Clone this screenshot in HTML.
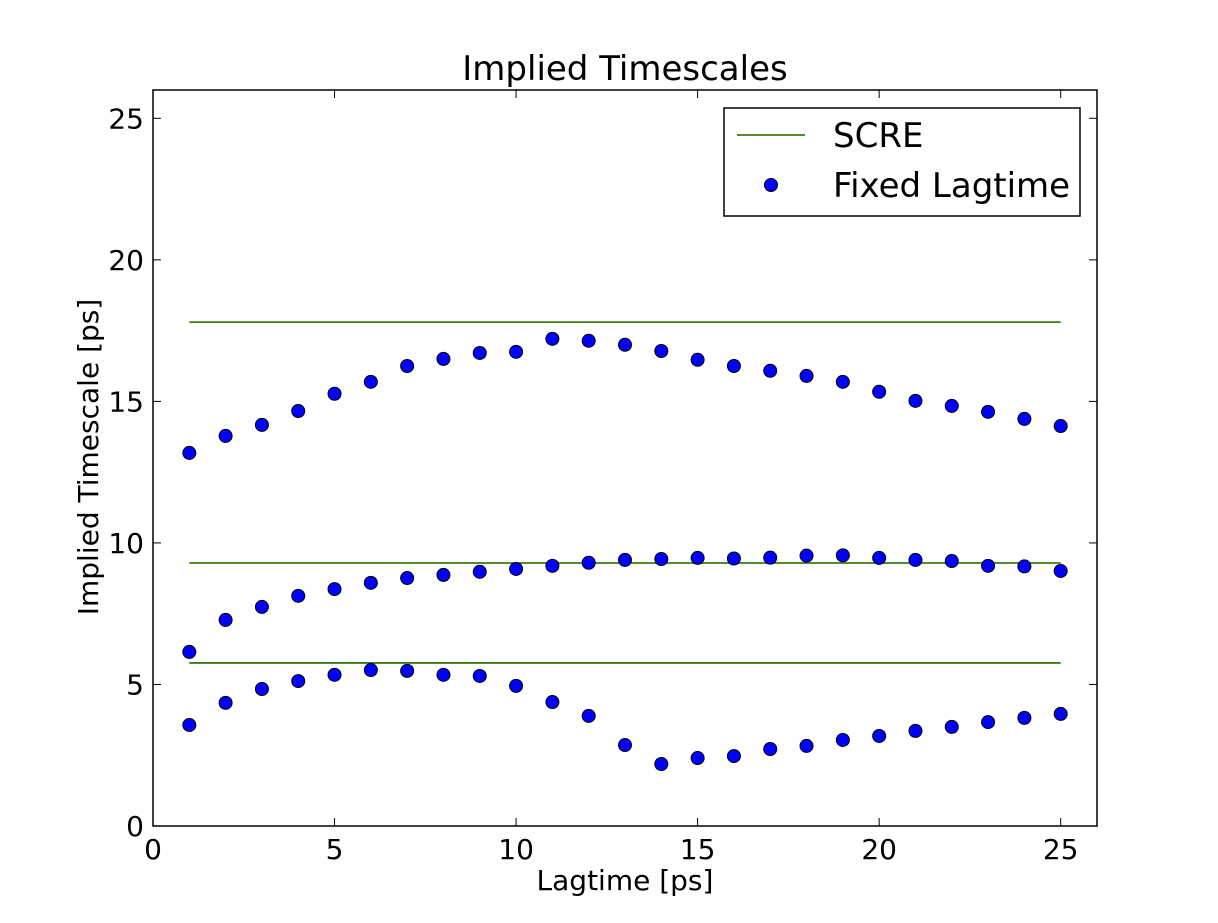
<!DOCTYPE html>
<html><head><meta charset="utf-8"><style>
html,body{margin:0;padding:0;background:#fff;}
svg text{font-family:"DejaVu Sans","Liberation Sans",sans-serif;}
</style></head><body>
<svg id="chart" width="1218" height="918" xmlns="http://www.w3.org/2000/svg"></svg>
<script>
const lagtimes=[1,2,3,4,5,6,7,8,9,10,11,12,13,14,15,16,17,18,19,20,21,22,23,24,25];
const seriesTop=[13.18,13.78,14.17,14.66,15.27,15.69,16.25,16.50,16.71,16.75,17.21,17.14,17.0,16.78,16.47,16.25,16.08,15.90,15.69,15.34,15.02,14.84,14.63,14.38,14.13];
const seriesMid=[6.15,7.28,7.74,8.13,8.37,8.59,8.76,8.87,8.98,9.08,9.19,9.30,9.40,9.43,9.47,9.45,9.48,9.55,9.56,9.47,9.40,9.36,9.19,9.17,9.01];
const seriesLow=[3.57,4.35,4.84,5.12,5.34,5.51,5.48,5.34,5.30,4.95,4.38,3.89,2.86,2.19,2.40,2.47,2.72,2.83,3.04,3.18,3.36,3.50,3.67,3.82,3.96];
const screLevels=[17.8,9.29,5.76];
const screRange=[1,25];
const xTicks=[0,5,10,15,20,25];
const yTicks=[0,5,10,15,20,25];

const L=153,R=1097,T=90,B=826,XMAX=26,YMAX=26;
const sx=v=>L+(R-L)*v/XMAX;
const sy=v=>B-(B-T)*v/YMAX;
const svg=document.getElementById('chart');
const NS='http://www.w3.org/2000/svg';
function mk(tag,attrs,parent){const e=document.createElementNS(NS,tag);for(const k in attrs)e.setAttribute(k,attrs[k]);(parent||svg).appendChild(e);return e;}

const gl=mk('g',{});


screLevels.forEach(v=>{
  const l=mk('line',{x1:sx(screRange[0]),x2:sx(screRange[1]),y1:sy(v),y2:sy(v),stroke:'#3a7d1a','stroke-width':1.8},gl);
  
  
});
[seriesTop,seriesMid,seriesLow].forEach((s,si)=>{
  const g=mk('g',{});
  
  
  s.forEach((v,i)=>{
    const c=mk('circle',{cx:sx(lagtimes[i]),cy:sy(v),r:6.5,fill:'#0000ff',stroke:'#000','stroke-width':1},g);
    
    
  });
});
const fr=mk('rect',{x:L,y:T,width:R-L,height:B-T,fill:'none',stroke:'#000','stroke-width':1.5});


xTicks.forEach(v=>{
  const x=sx(v);
  mk('line',{x1:x,x2:x,y1:B,y2:B-8,stroke:'#000','stroke-width':1});
  mk('line',{x1:x,x2:x,y1:T,y2:T+8,stroke:'#000','stroke-width':1});
  const t=mk('text',{x:x,y:B+33,'font-size':28,'text-anchor':'middle'});
  t.textContent=v;
  
  
});
yTicks.forEach(v=>{
  const y=sy(v);
  mk('line',{x1:L,x2:L+8,y1:y,y2:y,stroke:'#000','stroke-width':1});
  mk('line',{x1:R,x2:R-8,y1:y,y2:y,stroke:'#000','stroke-width':1});
  const t=mk('text',{x:L-9,y:y+10,'font-size':28,'text-anchor':'end'});
  t.textContent=v;
  
  
});
</script>
<svg style="position:absolute;left:0;top:0" width="1218" height="918" xmlns="http://www.w3.org/2000/svg">
<text x="625" y="80" font-size="34" text-anchor="middle" font-family="DejaVu Sans, Liberation Sans, sans-serif">Implied Timescales</text>
<text x="625" y="890" font-size="28" text-anchor="middle" font-family="DejaVu Sans, Liberation Sans, sans-serif">Lagtime [ps]</text>
<text x="98" y="457" font-size="28" text-anchor="middle" transform="rotate(-90 98 457)" font-family="DejaVu Sans, Liberation Sans, sans-serif">Implied Timescale [ps]</text>
<g>
<rect x="724" y="108" width="356" height="108" fill="#fff" stroke="#000" stroke-width="1.5"/>
<line x1="737" x2="805" y1="135" y2="135" stroke="#3a7d1a" stroke-width="1.8"/>
<text x="833" y="147" font-size="34" font-family="DejaVu Sans, Liberation Sans, sans-serif">SCRE</text>
<circle cx="771" cy="185" r="6.5" fill="#0000ff" stroke="#000"/>
<text x="833" y="197" font-size="34" font-family="DejaVu Sans, Liberation Sans, sans-serif">Fixed Lagtime</text>
</g>
</svg>
</body></html>
